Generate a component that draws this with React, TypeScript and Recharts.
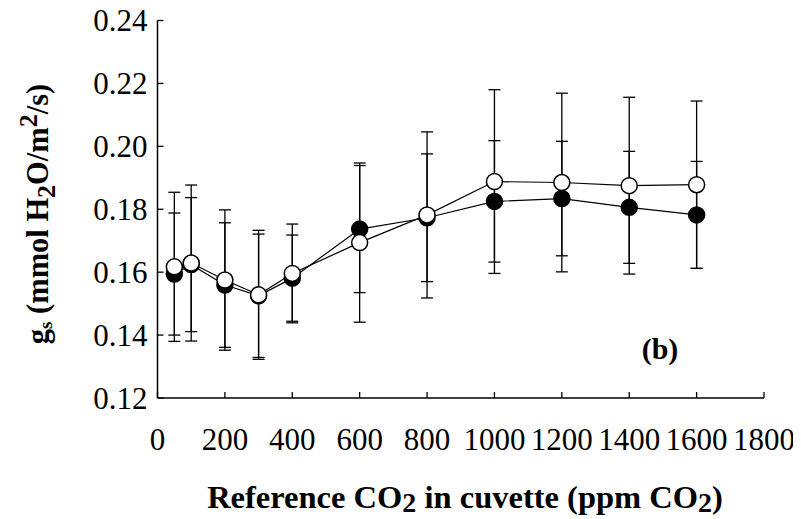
import React from 'react';
import { ComposedChart, Line, XAxis, YAxis, ErrorBar } from 'recharts';

const co2 = [50, 100, 200, 300, 400, 600, 800, 1000, 1200, 1400, 1600];
const gsFilled = [0.1594, 0.1624, 0.1559, 0.1525, 0.1581, 0.1737, 0.1773, 0.1825, 0.1834, 0.1806, 0.1782];
const gsFilledErr = [0.0194, 0.0213, 0.0198, 0.0196, 0.0137, 0.0202, 0.0203, 0.0193, 0.0182, 0.0178, 0.017];
const gsOpen = [0.1617, 0.1629, 0.1575, 0.1528, 0.1596, 0.1694, 0.1782, 0.1888, 0.1885, 0.1875, 0.1878];
const gsOpenErr = [0.0237, 0.0248, 0.0223, 0.0205, 0.0157, 0.0253, 0.0264, 0.0292, 0.0284, 0.0281, 0.0266];
const xTicks = [0, 200, 400, 600, 800, 1000, 1200, 1400, 1600, 1800];
const yTicks = [0.12, 0.14, 0.16, 0.18, 0.2, 0.22, 0.24];

const data = co2.map((x, i) => ({
  x,
  f: gsFilled[i],
  fe: gsFilledErr[i],
  o: gsOpen[i],
  oe: gsOpenErr[i],
}));

const FONT = '"Liberation Serif", "Times New Roman", Times, serif';

const XTick = (props: any) => {
  const { x, y, payload } = props;
  return (
    <g>
      <line x1={x} x2={x} y1={y} y2={y - 6} stroke="#000" strokeWidth={1.3} />
      <text x={x} y={y + 52} textAnchor="middle" fontFamily={FONT} fontSize={31} fill="#000">
        {payload.value}
      </text>
    </g>
  );
};

const TopTick = (props: any) => {
  const { x, y } = props;
  return <line x1={x} x2={x} y1={y} y2={y + 6} stroke="#000" strokeWidth={1.3} />;
};

const YTick = (props: any) => {
  const { x, y, payload } = props;
  return (
    <g>
      <line x1={x} x2={x + 6} y1={y} y2={y} stroke="#000" strokeWidth={1.3} />
      <text x={x - 10} y={y + 10.5} textAnchor="end" fontFamily={FONT} fontSize={31} fill="#000">
        {Number(payload.value).toFixed(2)}
      </text>
    </g>
  );
};

const XTitle = () => (
  <text x={465} y={508} textAnchor="middle" fontFamily={FONT} fontSize={32.5} fontWeight="bold" fill="#000">
    Reference CO
    <tspan dy={4} fontSize={28}>2</tspan>
    <tspan dy={-4}> in cuvette (ppm CO</tspan>
    <tspan dy={4} fontSize={28}>2</tspan>
    <tspan dy={-4}>)</tspan>
  </text>
);

const YTitle = () => (
  <text
    transform="rotate(-90)"
    x={-214}
    y={48}
    textAnchor="middle"
    fontFamily={FONT}
    fontSize={30.5}
    fontWeight="bold"
    fill="#000"
  >
    g
    <tspan dy={4} fontSize={19}>s</tspan>
    <tspan dy={-4}> (mmol H</tspan>
    <tspan dy={7} fontSize={26}>2</tspan>
    <tspan dy={-7}>O/m</tspan>
    <tspan dy={-11} fontSize={26}>2</tspan>
    <tspan dy={11}>/s)</tspan>
  </text>
);

export default function App() {
  return (
    <div style={{ margin: '-8px 0 0 -8px', width: 801, height: 519 }}>
      <ComposedChart
        width={801}
        height={519}
        data={data}
        margin={{ top: 20.5, right: 37, bottom: 0, left: 0 }}
      >
        <XAxis
          dataKey="x"
          type="number"
          domain={[0, 1800]}
          ticks={xTicks}
          interval={0}
          height={121}
          tickSize={0}
          tickMargin={0}
          tickLine={false}
          tick={<XTick />}
          axisLine={{ stroke: '#000', strokeWidth: 1.5 }}
          allowDataOverflow
          label={<XTitle />}
        />
        <XAxis
          xAxisId="top"
          orientation="top"
          dataKey="x"
          type="number"
          domain={[0, 1800]}
          ticks={xTicks}
          interval={0}
          height={0}
          tickSize={0}
          tickMargin={0}
          tickLine={false}
          tick={<TopTick />}
          axisLine={{ stroke: '#000', strokeWidth: 1.5 }}
          allowDataOverflow
        />
        <YAxis
          type="number"
          domain={[0.12, 0.24]}
          ticks={yTicks}
          interval={0}
          width={157.5}
          tickSize={0}
          tickMargin={0}
          tickLine={false}
          tick={<YTick />}
          axisLine={{ stroke: '#000', strokeWidth: 1.5 }}
          allowDataOverflow
          label={<YTitle />}
        />
        <YAxis
          yAxisId="right"
          orientation="right"
          type="number"
          domain={[0.12, 0.24]}
          width={0}
          tick={false}
          tickLine={false}
          axisLine={{ stroke: '#000', strokeWidth: 1.5 }}
        />
        <Line
          dataKey="f"
          stroke="#000"
          strokeWidth={1.2}
          isAnimationActive={false}
          dot={{ r: 8, fill: '#000', stroke: '#000', strokeWidth: 1.5 }}
          activeDot={false}
        >
          <ErrorBar dataKey="fe" direction="y" width={6} stroke="#000" strokeWidth={1.3} isAnimationActive={false} />
        </Line>
        <Line
          dataKey="o"
          stroke="#000"
          strokeWidth={1.2}
          isAnimationActive={false}
          dot={{ r: 8, fill: '#fff', stroke: '#000', strokeWidth: 1.5 }}
          activeDot={false}
        >
          <ErrorBar dataKey="oe" direction="y" width={6} stroke="#000" strokeWidth={1.3} isAnimationActive={false} />
        </Line>
        <text x={660} y={358.7} textAnchor="middle" fontFamily={FONT} fontSize={30} fontWeight="bold" fill="#000">
          (b)
        </text>
      </ComposedChart>
    </div>
  );
}
